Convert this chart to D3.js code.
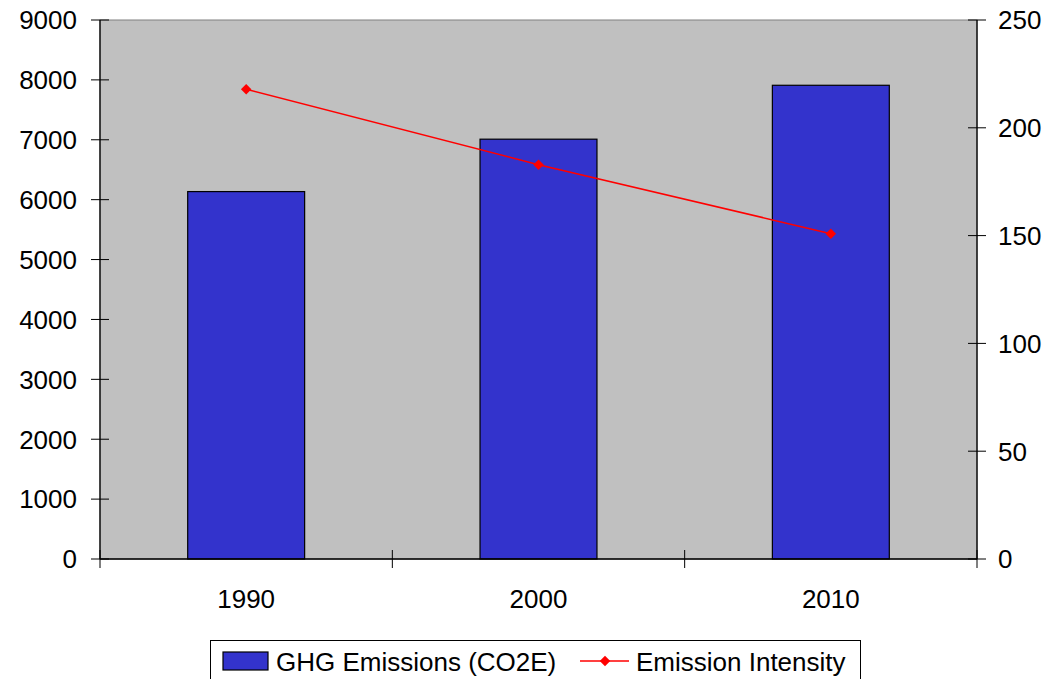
<!DOCTYPE html>
<html><head><meta charset="utf-8">
<script src="https://cdn.jsdelivr.net/npm/d3@7"></script>
<style>body{margin:0;background:#fff}svg{display:block;font-family:"Liberation Sans",Arial,sans-serif}</style>
</head><body>
<svg id="c" width="1047" height="679"></svg>
<script>
const categories = ["1990", "2000", "2010"];
const emissions = [6135, 7010, 7910];
const intensity = [217.9, 182.9, 150.9];
const leftTicks = [0,1000,2000,3000,4000,5000,6000,7000,8000,9000];
const rightTicks = [0,50,100,150,200,250];
const seriesNames = ["GHG Emissions (CO2E)", "Emission Intensity"];

const svg = d3.select("#c");
const L=100, R=977, T=20, B=559;
const x = d3.scaleBand().domain(categories).range([L,R]).paddingInner(0.6).paddingOuter(0.3);
const yL = d3.scaleLinear().domain([0,9000]).range([B,T]);
const yR = d3.scaleLinear().domain([0,250]).range([B,T]);
const fs = 26;

svg.append("rect").attr("x",L).attr("y",T).attr("width",R-L).attr("height",B-T)
  .attr("fill","#C0C0C0").attr("stroke","#808080").attr("stroke-width",1);

svg.selectAll("rect.bar").data(emissions).join("rect").attr("class","bar")
  .attr("x",(d,i)=>x(categories[i])).attr("width",x.bandwidth())
  .attr("y",d=>yL(d)).attr("height",d=>B-yL(d))
  .attr("fill","#3333CC").attr("stroke","#000").attr("stroke-width",1.2);

// left axis
const gl = svg.append("g");
gl.append("line").attr("x1",L).attr("x2",L).attr("y1",T).attr("y2",B).attr("stroke","#000").attr("stroke-width",1.3);
gl.selectAll("line.t").data(leftTicks).join("line").attr("class","t")
  .attr("x1",L-9).attr("x2",L+9).attr("y1",d=>yL(d)).attr("y2",d=>yL(d)).attr("stroke","#000");
gl.selectAll("text").data(leftTicks).join("text")
  .attr("x",L-23).attr("y",d=>yL(d)).attr("dy","0.36em").attr("text-anchor","end")
  .attr("font-size",fs).text(d=>d);

// right axis
const gr = svg.append("g");
gr.append("line").attr("x1",R).attr("x2",R).attr("y1",T).attr("y2",B).attr("stroke","#000").attr("stroke-width",1.3);
gr.selectAll("line.t").data(rightTicks).join("line").attr("class","t")
  .attr("x1",R-9).attr("x2",R+9).attr("y1",d=>yR(d)).attr("y2",d=>yR(d)).attr("stroke","#000");
gr.selectAll("text").data(rightTicks).join("text")
  .attr("x",R+21).attr("y",d=>yR(d)).attr("dy","0.36em").attr("text-anchor","start")
  .attr("font-size",fs).text(d=>d);

// bottom axis
const gb = svg.append("g");
gb.append("line").attr("x1",L).attr("x2",R).attr("y1",B).attr("y2",B).attr("stroke","#000").attr("stroke-width",1.3);
const bounds = [L].concat(categories.map(c=>x(c)-x.step()*x.paddingInner()/2+x.step()));
gb.selectAll("line.t").data(bounds).join("line").attr("class","t")
  .attr("x1",d=>d).attr("x2",d=>d).attr("y1",B-9).attr("y2",B+9).attr("stroke","#000");
gb.selectAll("text").data(categories).join("text")
  .attr("x",d=>x(d)+x.bandwidth()/2).attr("y",608).attr("text-anchor","middle")
  .attr("font-size",fs).text(d=>d);

// line
const cx = (d,i)=>x(categories[i])+x.bandwidth()/2;
svg.append("path").datum(intensity)
  .attr("d",d3.line().x(cx).y(d=>yR(d)))
  .attr("fill","none").attr("stroke","#FF0000").attr("stroke-width",1.5);
const diamond = d3.symbol().type(d3.symbolDiamond2).size(80);
svg.selectAll("path.m").data(intensity).join("path").attr("class","m")
  .attr("transform",(d,i)=>`translate(${cx(d,i)},${yR(d)}) rotate(45)`)
  .attr("d",d3.symbol().type(d3.symbolSquare).size(55)).attr("fill","#FF0000");

// legend
const lg = svg.append("g");
lg.append("rect").attr("x",210.5).attr("y",640.5).attr("width",650).attr("height",50)
  .attr("fill","#fff").attr("stroke","#000").attr("stroke-width",1);
lg.append("rect").attr("x",223).attr("y",652).attr("width",45).attr("height",18)
  .attr("fill","#3333CC").attr("stroke","#000").attr("stroke-width",1.2);
lg.append("text").attr("x",276).attr("y",671).attr("font-size",fs).text(seriesNames[0]);
lg.append("line").attr("x1",580).attr("x2",629).attr("y1",661).attr("y2",661).attr("stroke","#FF0000").attr("stroke-width",1.5);
lg.append("path").attr("transform","translate(605,661) rotate(45)")
  .attr("d",d3.symbol().type(d3.symbolSquare).size(55)).attr("fill","#FF0000");
lg.append("text").attr("x",636).attr("y",671).attr("font-size",fs).text(seriesNames[1]);
</script>
</body></html>
